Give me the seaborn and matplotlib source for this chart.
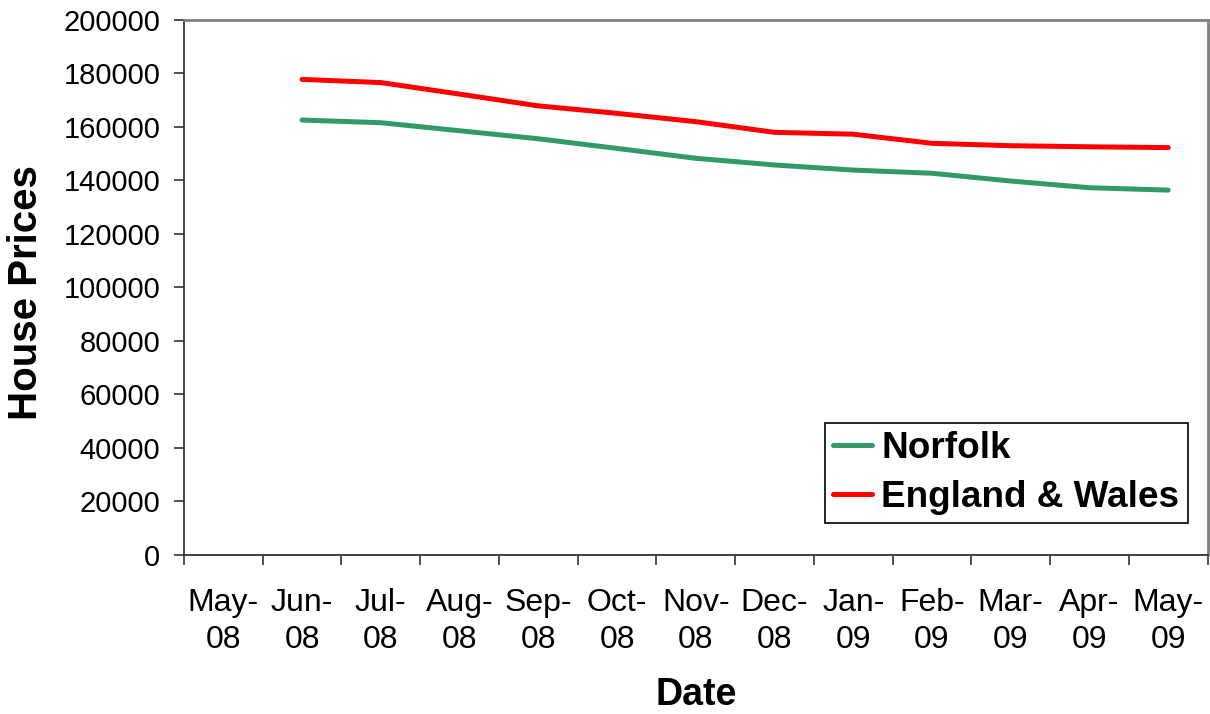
import numpy as np
import pandas as pd
import seaborn as sns
import matplotlib.pyplot as plt
from matplotlib.ticker import FixedLocator

months = ["May-\n08", "Jun-\n08", "Jul-\n08", "Aug-\n08", "Sep-\n08", "Oct-\n08",
          "Nov-\n08", "Dec-\n08", "Jan-\n09", "Feb-\n09", "Mar-\n09", "Apr-\n09", "May-\n09"]
# no figures for May-08, series start at Jun-08
norfolk = [162600, 161600, 158600, 155600, 152000, 148300, 145800,
           143900, 142700, 139800, 137300, 136400]
england_wales = [177800, 176600, 172300, 167900, 165100, 162000, 158000,
                 157300, 153900, 153000, 152600, 152300]
yticks = list(range(0, 200001, 20000))

def build_frame():
    pos = list(range(1, len(months)))
    df1 = pd.DataFrame({"pos": pos, "price": norfolk, "area": "Norfolk"})
    df2 = pd.DataFrame({"pos": pos, "price": england_wales, "area": "England & Wales"})
    return pd.concat([df1, df2], axis=0)

sns.set_style("white")
plt.rcParams['font.family'] = ['Liberation Sans', 'DejaVu Sans']
plt.rcParams['text.color'] = 'black'
plt.rcParams['axes.labelcolor'] = 'black'
plt.rcParams['xtick.color'] = 'black'
plt.rcParams['ytick.color'] = 'black'

df = build_frame()
fig = plt.figure(figsize=(12.1, 7.14), dpi=100)
ax = fig.add_axes([0.152, 0.2227, 0.846, 0.7493])
sns.lineplot(data=df, x="pos", y="price", hue="area", ax=ax,
             palette={"Norfolk": "#339966", "England & Wales": "#ff0000"},
             linewidth=3.6, solid_capstyle="round")

ax.set_xlim(-0.5, len(months) - 0.5)
ax.set_ylim(0, 200000)
ax.xaxis.set_major_locator(FixedLocator(range(len(months))))
ax.set_xticklabels(months)
ax.xaxis.set_minor_locator(FixedLocator(np.arange(-0.5, len(months), 1.0)))
ax.set_yticks(yticks)
ax.set_yticklabels([str(v) for v in yticks])
ax.tick_params(axis="x", which="major", length=0, pad=24, labelsize=23)
ax.tick_params(axis="x", which="minor", length=7, width=1.2, direction="out",
               color="#333333", bottom=True)
ax.tick_params(axis="y", length=7, width=1.2, direction="out", color="#333333",
               pad=10, labelsize=21, left=True)
for lab in ax.get_xticklabels():
    lab.set_linespacing(1.3)

for side in ["left", "bottom"]:
    ax.spines[side].set_color("#333333")
    ax.spines[side].set_linewidth(1.3)
for side in ["top", "right"]:
    ax.spines[side].set_color("#808080")
    ax.spines[side].set_linewidth(2)

ax.set_xlabel("Date", fontsize=27, fontweight="bold")
ax.xaxis.set_label_coords(0.5, -0.262)
ax.xaxis.label.set_va("center")
ax.set_ylabel("House Prices", fontsize=29, fontweight="bold")
ax.yaxis.set_label_coords(-0.154, 0.49)
ax.yaxis.label.set_va("center")

leg = ax.legend(loc="lower right", bbox_to_anchor=(0.9805, 0.0598), borderaxespad=0,
                fancybox=False, framealpha=1, edgecolor="black",
                prop={"size": 26.6, "weight": "bold"}, handlelength=1.05,
                handletextpad=0.25, labelspacing=0.38, borderpad=0.22)
leg.get_frame().set_linewidth(1.2)
for h in leg.get_lines():
    h.set_linewidth(3.6)
    h.set_solid_capstyle("round")

plt.savefig("out.png", dpi=100)
